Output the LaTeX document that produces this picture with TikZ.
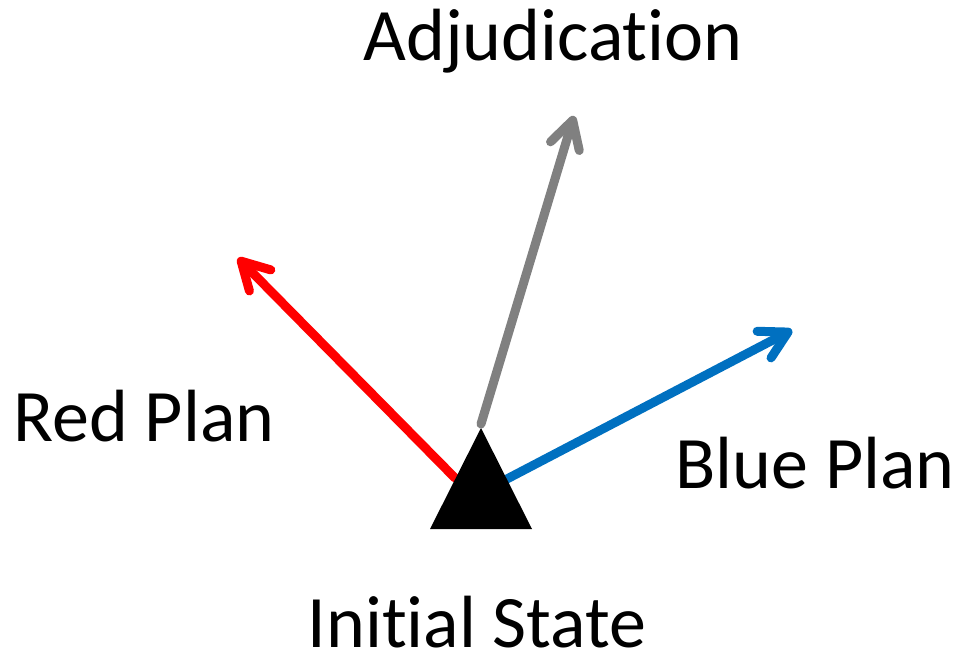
\documentclass[tikz,border=0pt]{standalone}
\usepackage{fontspec}
\setmainfont{Carlito}[Ligatures={NoCommon}]
\usetikzlibrary{arrows.meta}
\definecolor{redc}{RGB}{255,0,0}
\definecolor{grayc}{RGB}{128,128,128}
\definecolor{bluec}{RGB}{0,112,192}
\begin{document}
\begin{tikzpicture}[x=1pt,y=-1pt,
  vec/.style={line width=9pt,line cap=round,-{Straight Barb[length=27pt,width=30pt,line cap=round,line join=round]}},
  lbl/.style={anchor=base,inner sep=0pt,text depth=0pt,font=\fontsize{74}{78}\selectfont}]
\useasboundingbox (0,0) rectangle (959,653);
\coordinate (red0) at (455,478);
\coordinate (redT) at (238,258);
\coordinate (gray0) at (481,424);
\coordinate (grayT) at (574,116);
\coordinate (blue0) at (505,480);
\coordinate (blueT) at (792,330);
\draw[vec,redc] (red0) -- (redT);
\draw[vec,grayc] (gray0) -- (grayT);
\draw[vec,bluec] (blue0) -- (blueT);
\fill[black] (430,529) coordinate (tl) -- (532,529) coordinate (tr) -- (481,428) coordinate (ta) -- cycle;
\node[lbl] (adj) at (553,60) {Adjudication};
\node[lbl] (red) at (144,441) {Red Plan};
\node[lbl] (blue) at (815,488) {Blue Plan};
\node[lbl] (init) at (477,647) {Initial State};
\end{tikzpicture}
\end{document}
